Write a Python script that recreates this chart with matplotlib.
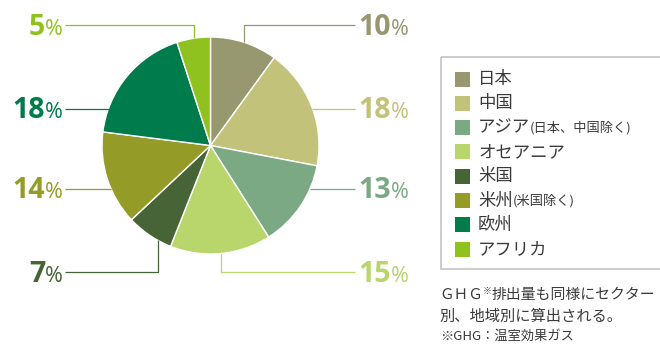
import numpy as np
import matplotlib.pyplot as plt
from matplotlib.patches import Rectangle

plt.rcParams['font.family'] = ['Noto Sans CJK JP', 'DejaVu Sans']

regions = ['日本', '中国', 'アジア', 'オセアニア', '米国', '米州', '欧州', 'アフリカ']
region_notes = ['', '', '(日本、中国除く)', '', '', '(米国除く)', '', '']
shares = [10, 18, 13, 15, 7, 14, 18, 5]
colors = ['#979770', '#c2c27a', '#7aa984', '#b8d66c',
          '#466436', '#959b27', '#007b4c', '#8fc21f']

# where each percentage sits: side, height of its leader, leader shape,
# and where along the wedge rim a vertical leader touches
label_side = ['R', 'R', 'R', 'R', 'L', 'L', 'L', 'L']
label_y = [25, 108.5, 188.5, 272, 272, 188.5, 108.5, 25]
leader_kind = ['v', 'h', 'h', 'v', 'v', 'h', 'h', 'v']
anchor_frac = [0.5, 0.5, 0.5, 0.5, 0.3, 0.5, 0.5, 0.5]

note_lines = ['排出量も同様にセクター', '別、地域別に算出される。', '※GHG：温室効果ガス']

W, H = 660, 344
cx, cy, r = 210.5, 145.5, 108.5
TXT = '#3a3a3a'
NUM_FONT = ['Open Sans', 'DejaVu Sans']

fig = plt.figure(figsize=(W / 100, H / 100), dpi=100, facecolor='white')
ax = fig.add_axes([0, 0, 1, 1])

# y runs downward here, so counterclockwise in data comes out clockwise on screen
wedges, _ = ax.pie(shares, colors=colors, startangle=-90, counterclock=True,
                   center=(cx, cy), radius=r,
                   wedgeprops=dict(edgecolor='white', linewidth=1))
ax.set_xlim(0, W)
ax.set_ylim(H, 0)
ax.set_aspect('equal')
ax.axis('off')

fig.canvas.draw()
rend = fig.canvas.get_renderer()


def run(x, y, pieces, align='left'):
    # lay text pieces side by side, each with its own font settings
    arts = []
    for s, kw in pieces:
        kw = dict(kw)
        dy = kw.pop('dy', 0)
        arts.append(ax.text(0, y + dy, s, **kw))
    widths = [a.get_window_extent(rend).width for a in arts]
    pos = x if align == 'left' else x - sum(widths)
    for a, w in zip(arts, widths):
        a.set_x(pos)
        pos += w


# leaders and percentages
for w, val, col, side, ly, kind, frac in zip(wedges, shares, colors, label_side,
                                             label_y, leader_kind, anchor_frac):
    end_x = 355 if side == 'R' else 65
    sgn = 1 if side == 'R' else -1
    if kind == 'h':
        x0 = cx + sgn * np.sqrt(r ** 2 - (ly - cy) ** 2)
        xs, ys = [x0, end_x], [ly, ly]
    else:
        th = np.deg2rad(w.theta1 + frac * (w.theta2 - w.theta1))
        ax0, ay0 = cx + r * np.cos(th), cy + r * np.sin(th)
        xs, ys = [ax0, ax0, end_x], [ay0, ly, ly]
    ax.plot(xs, ys, color=col, lw=0.9, solid_capstyle='butt', zorder=1)

    pieces = [(str(val), dict(family=NUM_FONT, fontsize=20.5,
                              fontweight='bold', color=col, va='baseline')),
              ('%', dict(family=NUM_FONT, fontsize=15.5,
                         color=col, va='baseline'))]
    if side == 'R':
        run(358, ly + 10, pieces, 'left')
    else:
        run(63, ly + 10, pieces, 'right')

# legend
ax.add_patch(Rectangle((441, 57), 240, 212, fill=False, edgecolor='#c4c4c4',
                       lw=1.2, zorder=1))
for i, (name, note, col) in enumerate(zip(regions, region_notes, colors)):
    y = 79 + i * 24.3
    ax.add_patch(Rectangle((455, y - 7.5), 15, 15, facecolor=col, edgecolor='none'))
    pieces = [(name, dict(fontsize=12.5, color=TXT, va='center'))]
    if note:
        pieces.append((note, dict(fontsize=9.5, color=TXT, va='center', dy=0.5)))
    run(478, y, pieces)

# note under the legend
run(439, 295, [('ＧＨＧ', dict(fontsize=10.5, color=TXT, va='center')),
               ('※', dict(fontsize=6.5, color=TXT, va='center', dy=-4)),
               (note_lines[0], dict(fontsize=10.7, color=TXT, va='center'))])
ax.text(440, 316, note_lines[1], fontsize=11, color=TXT, va='center')
ax.text(440, 336, note_lines[2], fontsize=9.5, color=TXT, va='center')

fig.savefig('out.png', dpi=100, facecolor='white')
